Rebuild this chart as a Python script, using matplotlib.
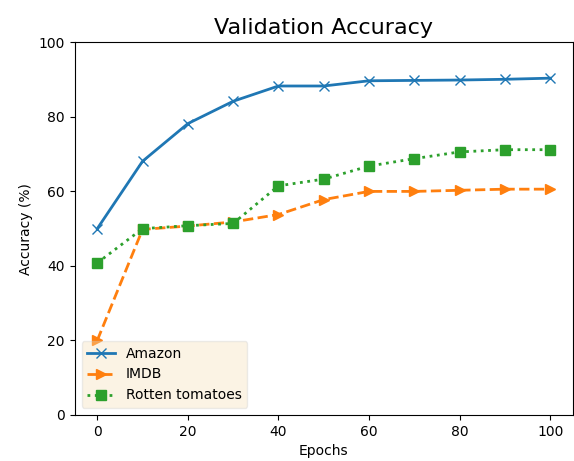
import numpy as np
import matplotlib
matplotlib.use("Agg")
import matplotlib.pyplot as plt

epochs = [0, 10, 20, 30, 40, 50, 60, 70, 80, 90, 100]
amazon = [50, 68.1, 78.2, 84.2, 88.3, 88.3, 89.7, 89.8, 89.9, 90.1, 90.4]
imdb = [20, 49.8, 50.7, 51.8, 53.8, 57.8, 60.0, 60.0, 60.3, 60.6, 60.6]
rotten = [40.8, 50, 50.8, 51.4, 61.5, 63.3, 66.8, 68.8, 70.6, 71.2, 71.2]

fig, ax = plt.subplots(figsize=(5.74, 4.61), dpi=100)
ax.plot(epochs, amazon, "x-", lw=2, ms=7, label="Amazon")
ax.plot(epochs, imdb, ">--", lw=2, ms=7, label="IMDB")
ax.plot(epochs, rotten, "s:", lw=2, ms=7, label="Rotten tomatoes")
ax.set_ylim(0, 100)
ax.set_title("Validation Accuracy", fontsize=16)
ax.set_xlabel("Epochs")
ax.set_ylabel("Accuracy (%)")
ax.legend(loc="lower left", fontsize=10, facecolor="wheat", framealpha=0.35)
fig.subplots_adjust(left=0.13, right=0.998, top=0.908, bottom=0.1)
fig.savefig("out.png")
